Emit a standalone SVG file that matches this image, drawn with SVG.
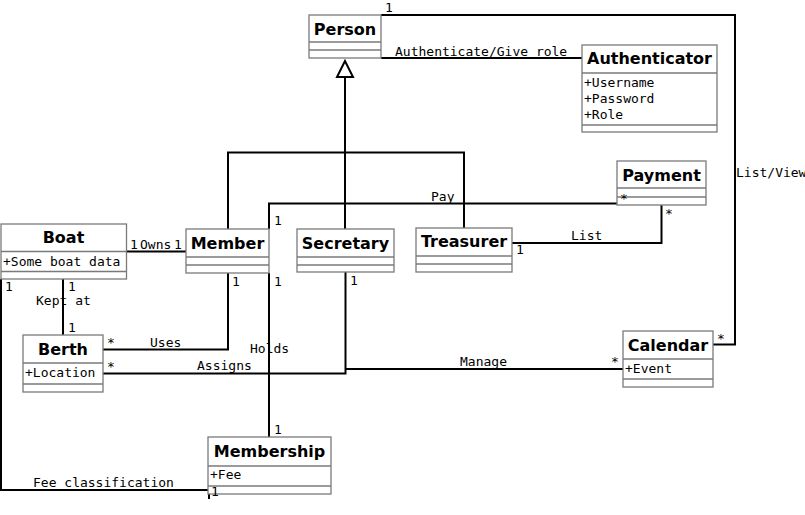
<svg xmlns="http://www.w3.org/2000/svg" width="805" height="515" viewBox="0 0 805 515">
<style>
.box{fill:#fff;stroke:#7a7a7a;stroke-width:1.3}
.sep{stroke:#7a7a7a;stroke-width:1.3}
.title{font-family:"DejaVu Sans",sans-serif;font-weight:bold;font-size:16px;text-anchor:middle;fill:#000}
.attr{font-family:"DejaVu Sans Mono",monospace;font-size:13px;fill:#000}
.lbl{font-family:"DejaVu Sans Mono",monospace;font-size:13px;fill:#000}
.edge{fill:none;stroke:#000;stroke-width:2}
</style>
<rect width="805" height="515" fill="#fff"/>
<g id="connectors">
<path class="edge" d="M381,58 H582"/>
<path class="edge" d="M381,15 H735 V344.5 H713"/>
<path class="edge" d="M345,77 V152.5 M228,229 V152.5 H464 V228 M345,152.5 V229"/>
<polygon points="345,61 337,77 353,77" fill="#fff" stroke="#000" stroke-width="2"/>
<path class="edge" d="M269,229 V203.5 H617"/>
<path class="edge" d="M512,243 H661.5 V205"/>
<path class="edge" d="M126.5,251.5 H186"/>
<path class="edge" d="M63,279 V335"/>
<path class="edge" d="M1,279 V490 H209 M209,486 V499"/>
<path class="edge" d="M228,273 V349.5 H103"/>
<path class="edge" d="M345.5,272 V373.5 H103"/>
<path class="edge" d="M345.5,369 H623"/>
<path class="edge" d="M269,273 V437"/>
</g>
<g id="person">
<rect class="box" x="309" y="15" width="72" height="43"/>
<line class="sep" x1="309" y1="42" x2="381" y2="42"/>
<line class="sep" x1="309" y1="50" x2="381" y2="50"/>
<text class="title" x="345" y="35">Person</text>
</g>
<g id="authenticator">
<rect class="box" x="582" y="45" width="135" height="87"/>
<line class="sep" x1="582" y1="73" x2="717" y2="73"/>
<line class="sep" x1="582" y1="125" x2="717" y2="125"/>
<text class="title" x="649.5" y="64">Authenticator</text>
<text class="attr" x="584" y="87">+Username</text>
<text class="attr" x="584" y="103">+Password</text>
<text class="attr" x="584" y="119">+Role</text>
</g>
<g id="payment">
<rect class="box" x="617" y="161" width="89" height="44"/>
<line class="sep" x1="617" y1="188" x2="706" y2="188"/>
<line class="sep" x1="617" y1="197" x2="706" y2="197"/>
<text class="title" x="661.5" y="181">Payment</text>
</g>
<g id="boat">
<rect class="box" x="1" y="224" width="125.5" height="55"/>
<line class="sep" x1="1" y1="251.5" x2="126.5" y2="251.5"/>
<line class="sep" x1="1" y1="271.5" x2="126.5" y2="271.5"/>
<text class="title" x="63.5" y="243">Boat</text>
<text class="attr" x="3" y="266">+Some boat data</text>
</g>
<g id="member">
<rect class="box" x="186" y="229" width="83" height="44"/>
<line class="sep" x1="186" y1="257" x2="269" y2="257"/>
<line class="sep" x1="186" y1="265" x2="269" y2="265"/>
<text class="title" x="227.5" y="249">Member</text>
</g>
<g id="secretary">
<rect class="box" x="297" y="229" width="97" height="43"/>
<line class="sep" x1="297" y1="257" x2="394" y2="257"/>
<line class="sep" x1="297" y1="265" x2="394" y2="265"/>
<text class="title" x="345.5" y="249">Secretary</text>
</g>
<g id="treasurer">
<rect class="box" x="416" y="228" width="96" height="44"/>
<line class="sep" x1="416" y1="256" x2="512" y2="256"/>
<line class="sep" x1="416" y1="264" x2="512" y2="264"/>
<text class="title" x="464" y="247">Treasurer</text>
</g>
<g id="berth">
<rect class="box" x="23" y="335" width="80" height="57"/>
<line class="sep" x1="23" y1="363" x2="103" y2="363"/>
<line class="sep" x1="23" y1="384" x2="103" y2="384"/>
<text class="title" x="63" y="355">Berth</text>
<text class="attr" x="25" y="377">+Location</text>
</g>
<g id="calendar">
<rect class="box" x="623" y="331" width="90" height="56"/>
<line class="sep" x1="623" y1="359" x2="713" y2="359"/>
<line class="sep" x1="623" y1="379" x2="713" y2="379"/>
<text class="title" x="668" y="351">Calendar</text>
<text class="attr" x="625" y="373">+Event</text>
</g>
<g id="membership">
<rect class="box" x="208" y="437" width="123" height="57"/>
<line class="sep" x1="208" y1="466" x2="331" y2="466"/>
<line class="sep" x1="208" y1="486" x2="331" y2="486"/>
<text class="title" x="269.5" y="457">Membership</text>
<text class="attr" x="210" y="479">+Fee</text>
</g>
<g id="connector-labels">
<text class="lbl" x="385" y="12">1</text>
<text class="lbl" x="395" y="56">Authenticate/Give role</text>
<text class="lbl" x="736" y="177">List/View</text>
<text class="lbl" x="717" y="343">*</text>
<text class="lbl" x="431" y="201">Pay</text>
<text class="lbl" x="274" y="225">1</text>
<text class="lbl" x="620" y="203">*</text>
<text class="lbl" x="571" y="240">List</text>
<text class="lbl" x="516" y="254">1</text>
<text class="lbl" x="665" y="218">*</text>
<text class="lbl" x="130" y="249">1</text>
<text class="lbl" x="140" y="249">Owns</text>
<text class="lbl" x="174" y="249">1</text>
<text class="lbl" x="5" y="291">1</text>
<text class="lbl" x="68" y="291">1</text>
<text class="lbl" x="36" y="305">Kept at</text>
<text class="lbl" x="68" y="332">1</text>
<text class="lbl" x="107" y="347">*</text>
<text class="lbl" x="150" y="347">Uses</text>
<text class="lbl" x="107" y="371">*</text>
<text class="lbl" x="197" y="370">Assigns</text>
<text class="lbl" x="250" y="353">Holds</text>
<text class="lbl" x="232" y="286">1</text>
<text class="lbl" x="274" y="286">1</text>
<text class="lbl" x="350" y="285">1</text>
<text class="lbl" x="274" y="434">1</text>
<text class="lbl" x="460" y="366">Manage</text>
<text class="lbl" x="611" y="366">*</text>
<text class="lbl" x="33" y="487">Fee classification</text>
<text class="lbl" x="211" y="496">1</text>
</g>
</svg>
